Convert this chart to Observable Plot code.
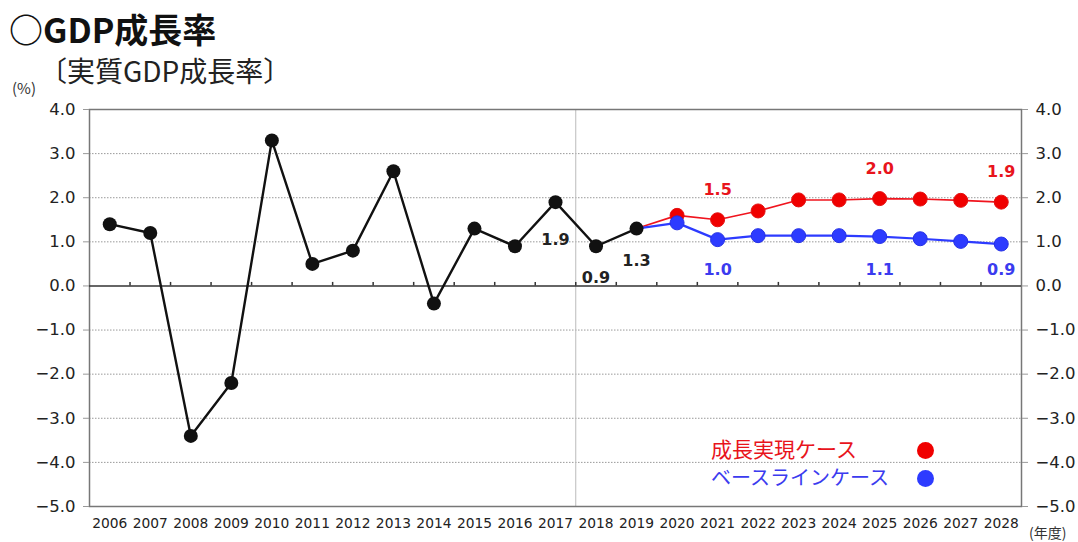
<!DOCTYPE html>
<html><head><meta charset="utf-8">
<script src="https://cdn.jsdelivr.net/npm/d3@7"></script>
<script src="https://cdn.jsdelivr.net/npm/@observablehq/plot@0.6"></script>
<style>
body{margin:0;background:#fff;font-family:"DejaVu Sans","Noto Sans CJK JP",sans-serif;}
#wrap{position:relative;width:1078px;height:542px;overflow:hidden;}
#wrap svg{position:absolute;left:0;top:0;}
.t{position:absolute;white-space:nowrap;font-family:'Noto Sans CJK JP',sans-serif;}
</style></head><body>
<div id="wrap">
<div class="t" style="left:9px;top:11px;font-size:34px;font-weight:bold;color:#111;letter-spacing:0px;line-height:36px;height:36px;">○GDP成長率</div>
<div class="t" style="left:39px;top:56px;font-size:28px;color:#222;line-height:28px;height:28px;letter-spacing:0px;">〔実質GDP成長率〕</div>
<div class="t" style="left:12px;top:79px;font-size:15px;color:#333;line-height:18px;">(%)</div>
<div class="t" style="left:1029px;top:522px;font-size:14px;color:#333;">(年度)</div>
<div class="t" style="left:711px;top:434px;font-size:21px;color:#e8141c;line-height:28px;">成長実現ケース</div>
<div class="t" style="left:711px;top:463px;font-size:20px;color:#3b3bef;line-height:28px;">ベースラインケース</div>
<div class="t" style="left:917px;top:442px;width:17px;height:17px;border-radius:50%;background:#f00000;"></div>
<div class="t" style="left:917px;top:470px;width:17px;height:17px;border-radius:50%;background:#2d3bff;"></div>
</div>
<script>
const years = d3.range(2006, 2029);
const actualYears = [2006,2007,2008,2009,2010,2011,2012,2013,2014,2015,2016,2017,2018,2019];
const actualValues = [1.4,1.2,-3.4,-2.2,3.3,0.5,0.8,2.6,-0.4,1.3,0.9,1.9,0.9,1.3];
const projYears = [2019,2020,2021,2022,2023,2024,2025,2026,2027,2028];
const growthValues = [1.3,1.6,1.5,1.7,1.95,1.95,1.98,1.97,1.94,1.9];
const baselineValues = [1.3,1.43,1.05,1.14,1.14,1.14,1.12,1.07,1.01,0.95];
const yTicks = [4,3,2,1,0,-1,-2,-3,-4,-5];
const labelYears = [2021,2025,2028];
const growthLabelText = ["1.5","2.0","1.9"];
const baselineLabelText = ["1.0","1.1","0.9"];
const actualLabelYears = [2017,2018,2019];
const actualLabelText = ["1.9","0.9","1.3"];

const actual = actualYears.map((y,i)=>({year:y, value:actualValues[i]}));
const growth = projYears.map((y,i)=>({year:y, value:growthValues[i]}));
const baseline = projYears.map((y,i)=>({year:y, value:baselineValues[i]}));
const bl = actualLabelYears.map((y,i)=>({year:y, value:actualValues[actualYears.indexOf(y)], text:actualLabelText[i]}));
const redLabels = labelYears.map((y,i)=>({year:y, value:growthValues[projYears.indexOf(y)], text:growthLabelText[i]}));
const blueLabels = labelYears.map((y,i)=>({year:y, value:baselineValues[projYears.indexOf(y)], text:baselineLabelText[i]}));
const bounds = d3.range(2006.5, 2028.5, 1);
const fmt = d3.format(".1f");

const chart = Plot.plot({
  width:1078, height:542,
  marginLeft:89, marginRight:57, marginTop:109, marginBottom:36,
  style:{fontFamily:"'DejaVu Sans',sans-serif", background:"transparent"},
  x:{type:"linear", domain:[2005.5, 2028.5], axis:null},
  y:{domain:[-5,4], axis:null},
  marks:[
    Plot.gridY(yTicks.filter(d=>d!==0 && d!==4 && d!==-5), {stroke:"#999", strokeOpacity:1, strokeWidth:1, strokeDasharray:"1.5,1.5"}),
    Plot.ruleX([2017.5], {stroke:"#bbb", strokeWidth:1}),
    Plot.frame({stroke:"#777", strokeWidth:1.5}),
    Plot.ruleY([0], {stroke:"#333", strokeWidth:1.5}),
    Plot.ruleX(bounds, {x:d=>d, y1:0, y2:0.08, stroke:"#333", strokeWidth:1.5}),
    Plot.axisY(yTicks, {anchor:"left", tickSize:6, tickPadding:8, tickFormat:fmt, fontSize:16.5, fill:"#222", stroke:"#999", label:null}),
    Plot.axisY(yTicks, {anchor:"right", tickSize:6, tickPadding:8, tickFormat:fmt, fontSize:16.5, fill:"#222", stroke:"#999", label:null}),
    Plot.axisX(years, {anchor:"bottom", tickSize:0, tickPadding:12, tickFormat:d=>String(d), fontSize:13.8, fill:"#222", label:null}),
    Plot.line(growth, {x:"year", y:"value", stroke:"#f0141e", strokeWidth:1.6}),
    Plot.line(baseline, {x:"year", y:"value", stroke:"#2d3bff", strokeWidth:2.2}),
    Plot.line(actual, {x:"year", y:"value", stroke:"#111", strokeWidth:2.4}),
    Plot.dot(growth.slice(1), {x:"year", y:"value", r:7, fill:"#f00000", stroke:"#e41010", strokeWidth:1}),
    Plot.dot(baseline.slice(1), {x:"year", y:"value", r:7, fill:"#2d3bff", stroke:"#2430e6", strokeWidth:1}),
    Plot.dot(actual, {x:"year", y:"value", r:7, fill:"#111"}),
    Plot.text([bl[0]], {x:"year", y:"value", text:"text", dy:38, fontSize:16, fontWeight:"bold", fill:"#222"}),
    Plot.text([bl[1]], {x:"year", y:0, text:"text", dy:-8, fontSize:16, fontWeight:"bold", fill:"#222"}),
    Plot.text([bl[2]], {x:"year", y:"value", text:"text", dy:32, fontSize:16, fontWeight:"bold", fill:"#222"}),
    Plot.text(redLabels, {x:"year", y:"value", text:"text", dy:-30, fontSize:16, fontWeight:"bold", fill:"#e8141c"}),
    Plot.text(blueLabels, {x:"year", y:0, text:"text", dy:-16, fontSize:16, fontWeight:"bold", fill:"#3b3bef"})
  ]
});
document.getElementById("wrap").prepend(chart);
</script>
</body></html>
